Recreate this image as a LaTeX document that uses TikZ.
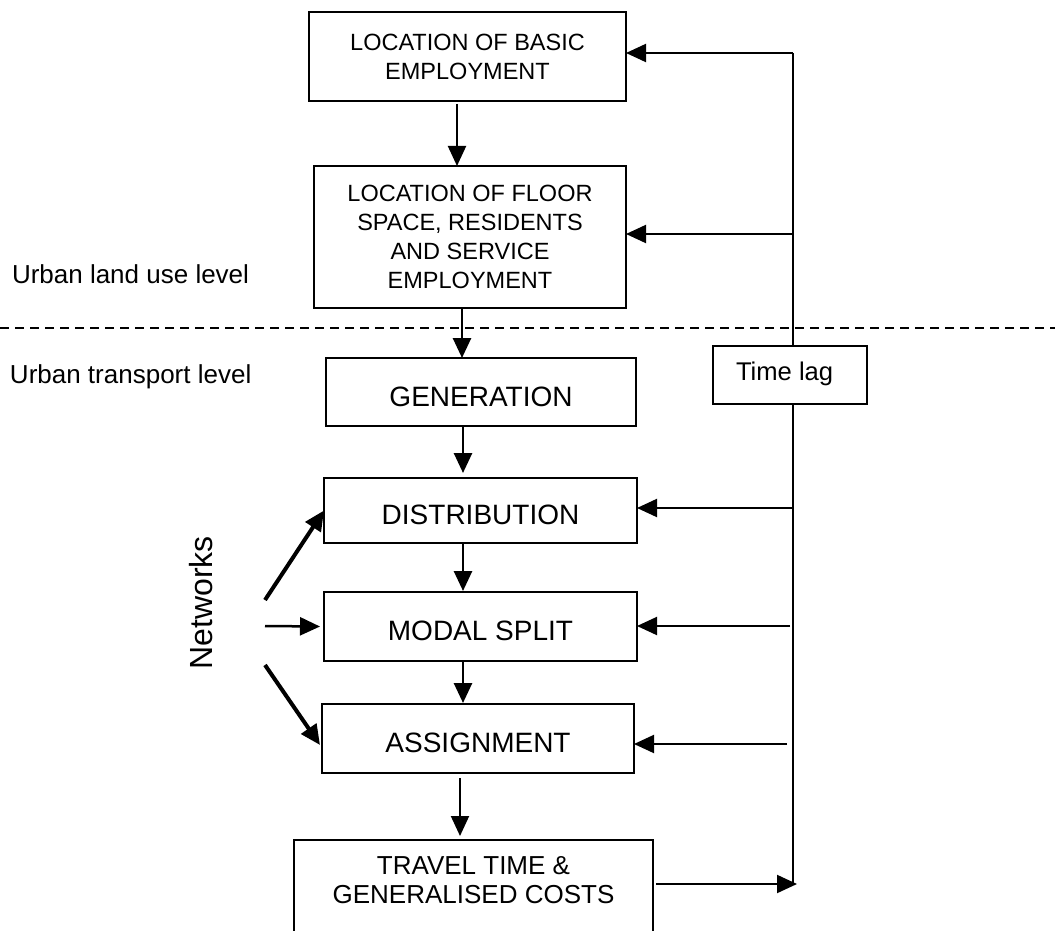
\documentclass[tikz,border=0pt]{standalone}
\usepackage{fontspec}
\setmainfont{Liberation Sans}
\usetikzlibrary{arrows.meta,calc}
\begin{document}
\begin{tikzpicture}[x=0.5pt,y=-0.5pt,
  every node/.style={inner sep=0pt, outer sep=0pt},
  lubox/.style={draw, line width=1.35pt, fill=white, align=center, font=\fontsize{11.75}{14.5}\selectfont},
  tbox/.style={draw, line width=1.35pt, fill=white, font=\fontsize{14}{16}\selectfont, text height=14pt, text depth=0pt},
  lbl/.style={anchor=base west, font=\fontsize{13}{15}\selectfont},
  arr/.style={-{Triangle[length=10pt,width=9pt]}, line width=1pt},
  arrthick/.style={-{Triangle[length=10pt,width=9pt]}, line width=1.35pt},
  net/.style={-{Triangle[length=10pt,width=9pt]}, line width=2pt},
  netmid/.style={-{Triangle[length=10pt,width=9pt]}, line width=1.25pt},
]
\useasboundingbox (0,0) rectangle (1055,931);
\clip (0,0) rectangle (1055,931);

% dashed level separator
\draw[line width=1pt, dash pattern=on 4.5pt off 3pt] (0,328) -- (1055,328);

% level labels
\node[lbl] (landuse) at (12,283) {Urban land use level};
\node[lbl] (transport) at (10,383) {Urban transport level};

% boxes
\node[lubox, minimum width=158.5pt, minimum height=44.5pt] (box1) at (467.5,56.5)
  {LOCATION OF BASIC\\EMPLOYMENT};
\node[lubox, minimum width=156pt, minimum height=71pt] (box2) at (470,237)
  {LOCATION OF FLOOR\\SPACE, RESIDENTS\\AND SERVICE\\EMPLOYMENT};
\node[tbox, minimum width=155pt, minimum height=34pt] (gen) at (481,392) {GENERATION};
\node[tbox, minimum width=156.5pt, minimum height=32.5pt] (dist) at (480.5,510.5) {DISTRIBUTION};
\node[tbox, minimum width=156.5pt, minimum height=34.5pt] (modal) at (480.5,626.5) {MODAL SPLIT};
\node[tbox, minimum width=156pt, minimum height=34.5pt] (assign) at (478,738.5) {ASSIGNMENT};
\node[draw, line width=1.35pt, fill=white, minimum width=179.5pt, minimum height=60pt, anchor=north] (travel) at (473.5,840) {};
\node[align=center, font=\fontsize{13}{14.5}\selectfont] (traveltext) at (473.5,880.5)
  {TRAVEL TIME \&\\GENERALISED COSTS};

% downward flow
\draw[arr] ($(box1.south)+(-10.5,3)$) coordinate (a1) -- (a1 |- box2.north);
\draw[arrthick] ($(box2.south)+(-8,0)$) coordinate (a2) -- (a2 |- gen.north);
\draw[arrthick] ($(gen.south)+(-18,0)$) coordinate (a3) -- ($(a3 |- dist.north)+(0,-5)$);
\draw[arrthick] ($(dist.south)+(-17.5,0)$) coordinate (a4) -- ($(a4 |- modal.north)+(0,-1)$);
\draw[arrthick] ($(modal.south)+(-17.5,0)$) coordinate (a5) -- ($(a5 |- assign.north)+(0,-1)$);
\draw[arr] ($(assign.south)+(-18,5)$) coordinate (a6) -- ($(a6 |- travel.north)+(0,-4)$);

% feedback loop
\coordinate (fbtop) at (793,53);
\coordinate (fbbot) at (793,884);
\coordinate (fb2) at (793,234);
\coordinate (fb3) at (792,508);
\coordinate (fb4) at (790,626);
\coordinate (fb5) at (787,744);
\coordinate (tipT) at (797,884);
\draw[line width=1pt] (fbtop) -- (fbbot);
\draw[arr] (fbtop) -- (box1.east |- fbtop);
\draw[arr] (fb2) -- (box2.east |- fb2);
\draw[arr] (fb3) -- (dist.east |- fb3);
\draw[arr] (fb4) -- (modal.east |- fb4);
\draw[arr] (fb5) -- (assign.east |- fb5);
\draw[arr] ($(travel.east |- tipT)+(3,0)$) -- (tipT);

% time lag box
\node[draw, line width=1pt, fill=white, minimum width=77pt, minimum height=29pt] (lag) at (790,375) {};
\node[anchor=base west, font=\fontsize{12.8}{15}\selectfont] (lagtext) at (736,380) {Time lag};

% networks
\node[rotate=90, font=\fontsize{16}{18}\selectfont] (netlbl) at (201,603) {Networks};
\coordinate (n1) at (265,600);
\coordinate (n2) at (265,626);
\coordinate (n3) at (265,665);
\draw[net] (n1) -- (dist.west);
\draw[netmid] (n2) -- ($(modal.west)+(-4,0)$);
\draw[net] (n3) -- ($(assign.west)+(-2,6.5)$);
\end{tikzpicture}
\end{document}
